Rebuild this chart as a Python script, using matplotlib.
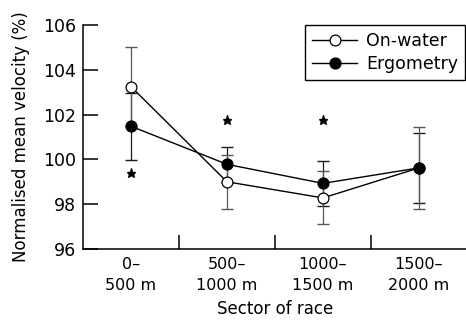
import numpy as np
import matplotlib
matplotlib.use("Agg")
import matplotlib.pyplot as plt

sectors = ["0–\n500 m", "500–\n1000 m", "1000–\n1500 m", "1500–\n2000 m"]
on_water = [103.25, 99.0, 98.28, 99.62]
on_water_sd = [1.75, 1.2, 1.18, 1.84]
ergometry = [101.48, 99.78, 98.93, 99.62]
ergometry_sd = [1.5, 0.78, 1.0, 1.58]
star_x = [0, 1, 2]
star_y = [99.4, 101.75, 101.75]

plt.rcParams['font.family'] = ['DejaVu Sans']
plt.rcParams['font.size'] = 11

fig = plt.figure(figsize=(4.66, 3.24), dpi=100)
ax = fig.add_axes([0.178, 0.2315, 0.824, 0.6914])
x = np.arange(len(sectors))

ax.errorbar(x, ergometry, yerr=ergometry_sd, fmt='none', ecolor='0.1',
            elinewidth=0.9, capsize=4.5, capthick=1.0, zorder=2)
ax.errorbar(x, on_water, yerr=on_water_sd, fmt='none', ecolor='0.35',
            elinewidth=0.9, capsize=4.5, capthick=1.0, zorder=2)
ax.plot(x, on_water, '-o', color='black', mfc='white', mec='black',
        ms=7.8, lw=1.0, mew=0.9, label='On-water', zorder=3)
ax.plot(x, ergometry, '-o', color='black', mfc='black', mec='black',
        ms=7.8, lw=1.0, label='Ergometry', zorder=3)
ax.plot(star_x, star_y, '*', color='black', ms=6.5, ls='none')

ax.set_xlim(-0.5, 3.5)
ax.set_ylim(96, 106)
ax.set_yticks([96, 98, 100, 102, 104, 106])
ax.set_xticks([0.5, 1.5, 2.5])
ax.set_xticklabels([])
ax.set_xticks(x, minor=True)
ax.set_xticklabels(sectors, minor=True, linespacing=1.5)
ax.tick_params(axis='y', direction='in', length=11, width=1.1, pad=5,
               labelsize=12.5)
ax.tick_params(axis='x', which='major', direction='in', length=10, width=1.1)
ax.tick_params(axis='x', which='minor', length=0, pad=6, labelsize=11.5)

for side in ['top', 'right']:
    ax.spines[side].set_visible(False)
ax.spines['left'].set_linewidth(1.1)
ax.spines['bottom'].set_linewidth(1.1)

ax.set_xlabel('Sector of race', labelpad=5, fontsize=12)
ax.set_ylabel('Normalised mean velocity (%)', labelpad=9, fontsize=12)

leg = ax.legend(loc='upper right', bbox_to_anchor=(0.995, 1.0), borderaxespad=0,
                fancybox=False, edgecolor='black', framealpha=1,
                handlelength=2.6, handletextpad=0.5, borderpad=0.4,
                labelspacing=0.3, fontsize=12.5)
leg.get_frame().set_linewidth(1.0)

fig.savefig('out.png', dpi=100)
